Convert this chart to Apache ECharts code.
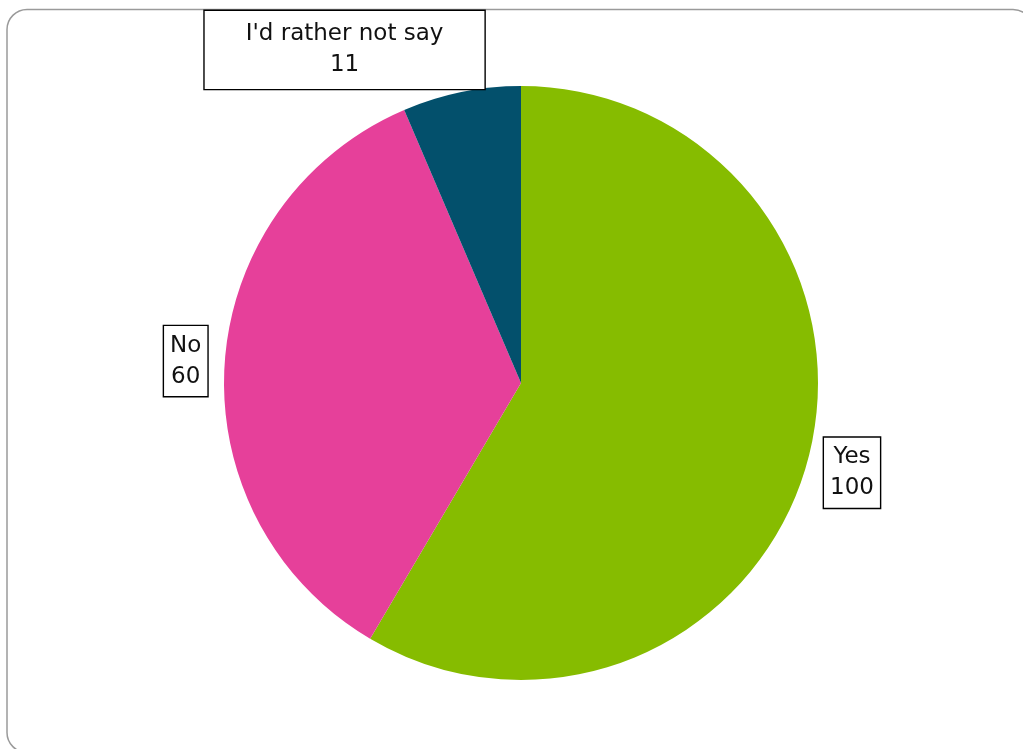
<!DOCTYPE html>
<html>
<head>
<meta charset="utf-8">
<script src="https://cdn.jsdelivr.net/npm/echarts@6/dist/echarts.min.js"></script>
<style>
html,body{margin:0;padding:0;background:#fff;}
#chart{width:1023px;height:749px;}
</style>
</head>
<body>
<div id="chart"></div>
<script>
const categories = ["Yes", "No", "I'd rather not say"];
const values = [100, 60, 11];
const colors = ["#86BC00", "#E6409A", "#03506C"];

// layout
const CX = 521, CY = 383, R = 297;
const LABEL_R = 341;
const labelNudge = [[2, 0], [5, 0], [-108, 1]];
const labelPadding = [[4, 6], [4, 6], [8, 41]];

const total = values.reduce((a, b) => a + b, 0);
const midAngles = [];
let acc = 0;
values.forEach(v => {
  const a = (acc + v / 2) / total * 2 * Math.PI;
  midAngles.push(a);
  acc += v;
});

const chart = echarts.init(document.getElementById('chart'));
chart.setOption({
  animation: false,
  graphic: [{
    type: 'rect',
    z: -10,
    shape: { x: 7, y: 9.5, width: 1026, height: 743, r: 20 },
    style: { fill: 'none', stroke: '#9a9a9a', lineWidth: 1.5 }
  }],
  series: [{
    type: 'pie',
    center: [CX, CY],
    radius: R,
    startAngle: 90,
    clockwise: true,
    avoidLabelOverlap: false,
    labelLine: { show: false },
    itemStyle: { borderWidth: 0 },
    label: {
      show: true,
      position: 'outside',
      formatter: '{b}\n{c}',
      fontFamily: 'DejaVu Sans',
      fontSize: 23,
      lineHeight: 31,
      color: '#111',
      backgroundColor: '#fff',
      borderColor: '#000',
      borderWidth: 1.4,
      align: 'center'
    },
    labelLayout: function (p) {
      const i = p.dataIndex;
      const a = midAngles[i];
      return {
        x: CX + LABEL_R * Math.sin(a) + labelNudge[i][0],
        y: CY - LABEL_R * Math.cos(a) + labelNudge[i][1],
        align: 'center',
        verticalAlign: 'middle'
      };
    },
    data: categories.map((c, i) => ({
      name: c,
      value: values[i],
      itemStyle: { color: colors[i] },
      label: { padding: labelPadding[i] }
    }))
  }]
});
</script>
</body>
</html>
